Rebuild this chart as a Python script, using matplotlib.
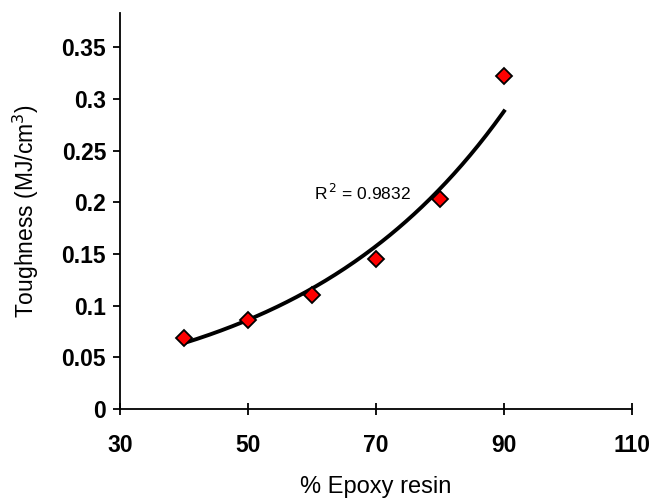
import numpy as np
import matplotlib
matplotlib.use("Agg")
import matplotlib.pyplot as plt

plt.rcParams['font.family'] = ['Liberation Sans', 'DejaVu Sans']

epoxy = [40, 50, 60, 70, 80, 90]
toughness = [0.069, 0.086, 0.110, 0.145, 0.203, 0.322]
x_ticks = [30, 50, 70, 90, 110]
y_ticks = [0, 0.05, 0.1, 0.15, 0.2, 0.25, 0.3, 0.35]
y_ticklabels = ['0', '0.05', '0.1', '0.15', '0.2', '0.25', '0.3', '0.35']
r2_text = "R$^{\\,2}$ = 0.9832"

fig = plt.figure(figsize=(6.57, 5.0), dpi=100)
ax = fig.add_axes([120/657, 1-409/500, (632-120)/657, (409-13)/500])

# Exponential trend line (Excel-style fit)
b, ln_a = np.polyfit(epoxy, np.log(toughness), 1)
xs = np.linspace(min(epoxy), max(epoxy), 200)
ax.plot(xs, np.exp(ln_a) * np.exp(b * xs), color='black', lw=2.8, zorder=2)

ax.plot(epoxy, toughness, linestyle='none', marker='D', markersize=8,
        markerfacecolor='#ff0000', markeredgecolor='black', markeredgewidth=1.3, zorder=3)

ax.set_xlim(30, 110)
ax.set_ylim(0, 0.383)
ax.set_xticks(x_ticks)
ax.set_xticklabels([str(t) for t in x_ticks])
ax.set_yticks(y_ticks)
ax.set_yticklabels(y_ticklabels)

for side in ['top', 'right']:
    ax.spines[side].set_visible(False)
for side in ['left', 'bottom']:
    ax.spines[side].set_linewidth(1.3)

ax.tick_params(axis='y', direction='out', length=5, width=1.3, pad=5)
ax.tick_params(axis='x', direction='inout', length=8, width=1.3, pad=14)
for lbl in ax.get_xticklabels() + ax.get_yticklabels():
    lbl.set_fontsize(16.5)
    lbl.set_fontweight('bold')

ax.set_xlabel('% Epoxy resin', fontsize=17, labelpad=14)
ax.set_ylabel('Toughness (MJ/cm$^3$)', fontsize=16.5)
ax.yaxis.set_label_coords(-(120-41)/512, 0.5)

ax.text(60.3, 0.209, r2_text, fontsize=12.5, ha='left', va='center')

fig.savefig('out.png', dpi=100)
